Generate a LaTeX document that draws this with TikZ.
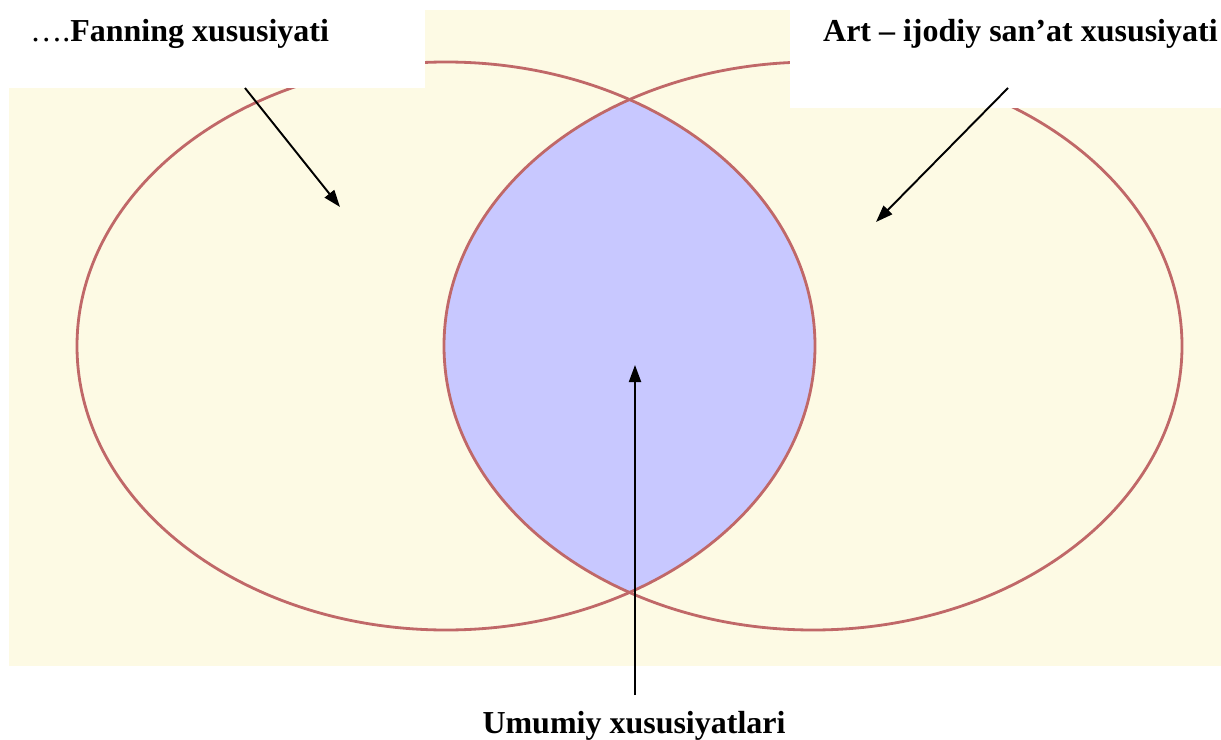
\documentclass[tikz,border=0pt]{standalone}
\usepackage{fontspec}
\setmainfont{Liberation Serif}
\usetikzlibrary{arrows.meta,positioning}
\definecolor{vnedge}{RGB}{192,104,104}
\definecolor{vnbg}{RGB}{253,250,228}
\definecolor{vnlens}{RGB}{200,200,255}
\tikzset{
  vnring/.style={draw=vnedge, line width=1.6pt},
  lbl/.style={font=\fontsize{18.2}{21}\selectfont\bfseries, inner sep=0pt},
  arr/.style={-{Triangle[length=3.4mm,width=2.4mm]}, draw=black, line width=1.1pt},
  every picture/.append style={line join=round}
}
\begin{document}
\begin{tikzpicture}[x=0.2mm,y=-0.2mm]
  \useasboundingbox (0,0) rectangle (1221,740);
  % background
  \fill[vnbg] (9,88) rectangle (1221,666);
  \fill[vnbg] (425,10) rectangle (790,88);
  % common part
  \begin{scope}
    \clip (446,346) ellipse [x radius=369, y radius=284];
    \fill[vnlens] (813,346) ellipse [x radius=369, y radius=284];
  \end{scope}
  \draw[vnring] (446,346) ellipse [x radius=369, y radius=284];
  \draw[vnring] (813,346) ellipse [x radius=369, y radius=284];
  % label boxes
  \fill[white] (0,0) rectangle (425,88);
  \fill[white] (790,0) rectangle (1221,108);
  \node[lbl, anchor=base west] (fan) at (30,42) {{\mdseries….}Fanning xususiyati};
  \node[lbl, anchor=base east] (art) at (1218,42) {Art – ijodiy san’at xususiyati};
  \node[lbl, anchor=base] (umum) at (634,733) {Umumiy xususiyatlari};
  \coordinate (fanfoot) at (245,88);
  \coordinate (fantip) at (340,207);
  \coordinate (artfoot) at (1008,88);
  \coordinate (arttip) at (876,222);
  \coordinate (umumfoot) at (635,695);
  \coordinate (umumtip) at (635,365);
  \draw[arr] (fanfoot) -- (fantip);
  \draw[arr] (artfoot) -- (arttip);
  \draw[arr] (umumfoot) -- (umumtip);
\end{tikzpicture}
\end{document}
